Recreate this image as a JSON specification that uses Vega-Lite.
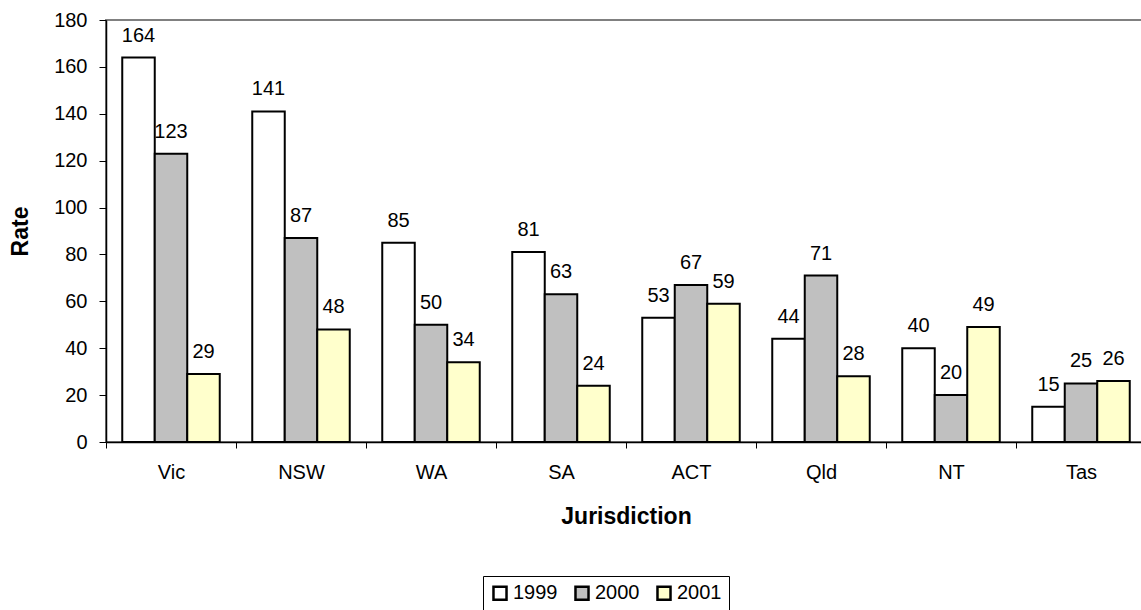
{
  "$schema": "https://vega.github.io/schema/vega-lite/v6.json",
  "autosize": {"type": "none"},
  "padding": {"left": 106, "top": 20, "right": 0, "bottom": 168},
  "width": 1040,
  "height": 422,
  "background": "white",
  "config": {
    "font": "Liberation Sans",
    "view": {"stroke": "#808080", "strokeWidth": 2},
    "axis": {"labelFont": "Liberation Sans", "titleFont": "Liberation Sans", "labelColor": "black", "titleColor": "black", "domainColor": "black", "tickColor": "black", "domainWidth": 1.5, "tickWidth": 1}
  },
  "data": {
    "values": [
      {"j": "Vic", "year": "1999", "rate": 164}, {"j": "Vic", "year": "2000", "rate": 123}, {"j": "Vic", "year": "2001", "rate": 29},
      {"j": "NSW", "year": "1999", "rate": 141}, {"j": "NSW", "year": "2000", "rate": 87}, {"j": "NSW", "year": "2001", "rate": 48},
      {"j": "WA", "year": "1999", "rate": 85}, {"j": "WA", "year": "2000", "rate": 50}, {"j": "WA", "year": "2001", "rate": 34},
      {"j": "SA", "year": "1999", "rate": 81}, {"j": "SA", "year": "2000", "rate": 63}, {"j": "SA", "year": "2001", "rate": 24},
      {"j": "ACT", "year": "1999", "rate": 53}, {"j": "ACT", "year": "2000", "rate": 67}, {"j": "ACT", "year": "2001", "rate": 59},
      {"j": "Qld", "year": "1999", "rate": 44}, {"j": "Qld", "year": "2000", "rate": 71}, {"j": "Qld", "year": "2001", "rate": 28},
      {"j": "NT", "year": "1999", "rate": 40}, {"j": "NT", "year": "2000", "rate": 20}, {"j": "NT", "year": "2001", "rate": 49},
      {"j": "Tas", "year": "1999", "rate": 15}, {"j": "Tas", "year": "2000", "rate": 25}, {"j": "Tas", "year": "2001", "rate": 26}
    ]
  },
  "encoding": {
    "x": {
      "field": "j", "type": "nominal", "sort": null,
      "scale": {"paddingInner": 0, "paddingOuter": 0},
      "axis": {"title": "Jurisdiction", "labelAngle": 0, "tickBand": "extent", "tickSize": 6, "labelPadding": 14, "labelFontSize": 20, "titleFontSize": 23, "titleFontWeight": "bold", "titleY": 74, "titleBaseline": "middle"}
    },
    "xOffset": {"field": "year", "type": "nominal", "scale": {"paddingInner": 0, "paddingOuter": 0.5}},
    "y": {
      "field": "rate", "type": "quantitative",
      "scale": {"domain": [0, 180], "nice": false},
      "axis": {"title": "Rate", "values": [0, 20, 40, 60, 80, 100, 120, 140, 160, 180], "grid": false, "tickSize": 7, "labelPadding": 12, "labelFontSize": 20, "titleFontSize": 23, "titleFontWeight": "bold", "titleX": -86, "titleY": 211, "titleBaseline": "middle"}
    }
  },
  "layer": [
    {
      "mark": {"type": "bar", "stroke": "black", "strokeWidth": 2},
      "encoding": {
        "fill": {
          "field": "year", "type": "nominal",
          "scale": {"domain": ["1999", "2000", "2001"], "range": ["#FFFFFF", "#C0C0C0", "#FFFFCC"]},
          "legend": {"title": null, "orient": "none", "legendX": 377, "legendY": 556, "direction": "horizontal", "strokeColor": "black", "padding": 7, "symbolType": "square", "symbolSize": 170, "symbolStrokeColor": "black", "symbolStrokeWidth": 2.5, "labelFontSize": 20, "labelColor": "black", "labelFont": "Liberation Sans", "columnPadding": 12, "labelOffset": 3}
        }
      }
    },
    {
      "mark": {"type": "text", "baseline": "bottom", "dy": -12, "fontSize": 20, "color": "black"},
      "encoding": {"text": {"field": "rate", "type": "quantitative"}}
    }
  ]
}
